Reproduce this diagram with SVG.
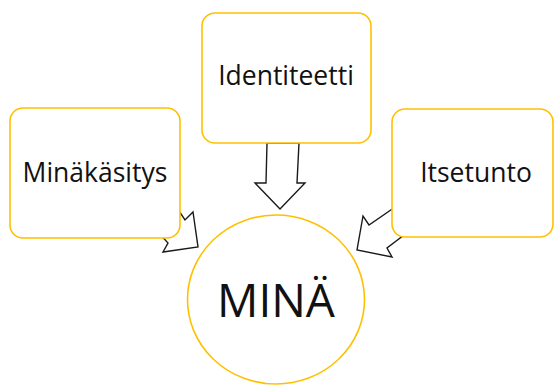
<svg xmlns="http://www.w3.org/2000/svg" width="555" height="386" viewBox="0 0 555 386">
<style>
.box{fill:#ffffff;stroke:#FFC000;stroke-width:1.6}
.arr{fill:#ffffff;stroke:#1a1a1a;stroke-width:1.4;stroke-linejoin:miter}
.lbl{font-family:"Open Sans","Noto Sans",sans-serif;font-size:26.5px;fill:#111111;text-anchor:middle}
.big{font-size:46px}
</style>
<rect width="555" height="386" fill="#ffffff"/>
<g id="connectors">
<polygon class="arr" points="267,143 266,183 255,183 280,209 305,183 297,183 299,143"/>
<polygon class="arr" points="175,205 185,220 193,212 198,247 163,252 168,243 158,232"/>
<polygon class="arr" points="398,205 369,225 363,216 357,250 392,257 387,248 408,232"/>
</g>
<g id="node-minakasitys">
<rect class="box" x="10" y="108" width="170" height="130" rx="13"/>
<text class="lbl" x="95" y="182">Minäkäsitys</text>
</g>
<g id="node-identiteetti">
<rect class="box" x="202" y="13" width="169" height="130" rx="13"/>
<text class="lbl" x="286" y="85">Identiteetti</text>
</g>
<g id="node-itsetunto">
<rect class="box" x="392" y="109" width="161" height="128" rx="13"/>
<text class="lbl" x="476" y="182">Itsetunto</text>
</g>
<g id="node-mina">
<ellipse class="box" cx="276" cy="299.5" rx="88.5" ry="84.5"/>
<text class="lbl big" x="276" y="317">MINÄ</text>
</g>
</svg>
